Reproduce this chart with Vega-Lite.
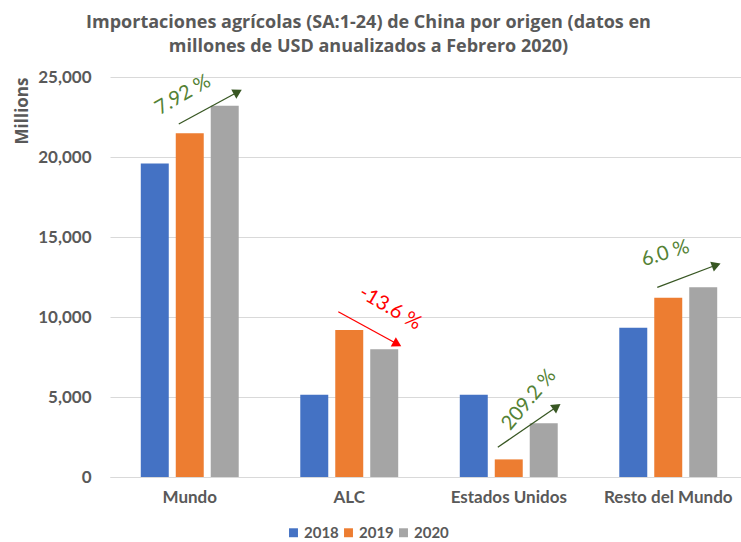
{
  "$schema": "https://vega.github.io/schema/vega-lite/v6.json",
  "width": 631,
  "height": 400,
  "autosize": "none",
  "padding": {"left": 110, "top": 77, "right": 0, "bottom": 65},
  "background": "white",
  "config": {
    "view": {"stroke": null},
    "font": "Lato"
  },
  "title": {
    "text": ["Importaciones agrícolas (SA:1-24) de China por origen (datos en", "millones de USD anualizados a Febrero 2020)"],
    "fontSize": 18,
    "fontWeight": "bold",
    "font": "Open Sans",
    "color": "#595959",
    "lineHeight": 24,
    "anchor": "middle",
    "frame": "group",
    "dx": -57,
    "offset": 12
  },
  "datasets": {
    "bars": [
      {"region": "Mundo", "year": "2018", "value": 19600},
      {"region": "Mundo", "year": "2019", "value": 21480},
      {"region": "Mundo", "year": "2020", "value": 23200},
      {"region": "ALC", "year": "2018", "value": 5140},
      {"region": "ALC", "year": "2019", "value": 9190},
      {"region": "ALC", "year": "2020", "value": 7980},
      {"region": "Estados Unidos", "year": "2018", "value": 5140},
      {"region": "Estados Unidos", "year": "2019", "value": 1100},
      {"region": "Estados Unidos", "year": "2020", "value": 3354},
      {"region": "Resto del Mundo", "year": "2018", "value": 9333},
      {"region": "Resto del Mundo", "year": "2019", "value": 11208},
      {"region": "Resto del Mundo", "year": "2020", "value": 11854}
    ],
    "arrows": [
      {"region": "Mundo", "arrow": "Mundo", "year": "2019", "value": 22062},
      {"region": "Mundo", "arrow": "Mundo", "year": "2020", "value": 24062},
      {"region": "ALC", "arrow": "ALC", "year": "2019", "value": 10331},
      {"region": "ALC", "arrow": "ALC", "year": "2020", "value": 8312},
      {"region": "Estados Unidos", "arrow": "Estados Unidos", "year": "2019", "value": 1856},
      {"region": "Estados Unidos", "arrow": "Estados Unidos", "year": "2020", "value": 4394},
      {"region": "Resto del Mundo", "arrow": "Resto del Mundo", "year": "2019", "value": 11856},
      {"region": "Resto del Mundo", "arrow": "Resto del Mundo", "year": "2020", "value": 13250}
    ],
    "labels": [
      {"region": "Mundo", "value": 23770, "label": "7.92 %"},
      {"region": "ALC", "value": 10375, "label": "-13.6 %"},
      {"region": "Estados Unidos", "value": 4500, "label": "209.2 %"},
      {"region": "Resto del Mundo", "value": 14030, "label": "6.0 %"}
    ]
  },
  "encoding": {
    "x": {
      "field": "region", "type": "nominal",
      "sort": ["Mundo", "ALC", "Estados Unidos", "Resto del Mundo"],
      "scale": {"range": [0, 638], "paddingInner": 0.386, "paddingOuter": 0.193},
      "axis": {
        "title": null, "labelAngle": 0, "labelFontSize": 17, "labelFontWeight": "bold",
        "labelColor": "#595959", "labelFont": "Lato", "labelPadding": 12,
        "ticks": false, "domainColor": "#D9D9D9", "domainWidth": 1, "grid": false
      }
    },
    "y": {
      "field": "value", "type": "quantitative",
      "scale": {"domain": [0, 25000], "nice": false},
      "axis": {
        "title": "Millions", "titleFontSize": 17, "titleFontWeight": "bold", "titleColor": "#595959",
        "titleFont": "Open Sans", "titleAnchor": "end", "titlePadding": 6,
        "values": [0, 5000, 10000, 15000, 20000, 25000], "format": ",d",
        "labelFontSize": 17, "labelFontWeight": "bold", "labelColor": "#595959", "labelFont": "Lato",
        "labelPadding": 19, "ticks": false, "domain": false,
        "gridColor": "#D9D9D9", "gridWidth": 1
      }
    }
  },
  "layer": [
    {
      "data": {"name": "bars"},
      "mark": {"type": "bar"},
      "encoding": {
        "xOffset": {
          "field": "year", "type": "nominal",
          "scale": {"paddingInner": 0.2, "paddingOuter": 0}
        },
        "color": {
          "field": "year", "type": "nominal",
          "scale": {"range": ["#4472C4", "#ED7D31", "#A5A5A5"]},
          "legend": {
            "title": null, "orient": "none", "direction": "horizontal",
            "legendX": 176, "legendY": 448,
            "symbolType": "square", "symbolSize": 80, "symbolStrokeWidth": 0,
            "labelFontSize": 15, "labelFontWeight": "bold", "labelColor": "#595959", "labelFont": "Lato",
            "labelOffset": 3, "columnPadding": 2
          }
        }
      }
    },
    {
      "data": {"name": "arrows"},
      "mark": {"type": "line", "color": "#385723", "strokeWidth": 1.3},
      "transform": [{"filter": "datum.region !== 'ALC'"}],
      "encoding": {
        "xOffset": {"field": "year", "type": "nominal", "scale": {"type": "point", "domain": ["2019", "2020"], "range": [38, 97], "padding": 0}},
        "detail": {"field": "arrow"}
      }
    },
    {
      "data": {"name": "arrows"},
      "mark": {"type": "line", "color": "#FF0000", "strokeWidth": 1.3},
      "transform": [{"filter": "datum.region === 'ALC'"}],
      "encoding": {
        "xOffset": {"field": "year", "type": "nominal", "scale": {"type": "point", "domain": ["2019", "2020"], "range": [38, 97], "padding": 0}},
        "detail": {"field": "arrow"}
      }
    },
    {
      "data": {"name": "arrows"},
      "mark": {"type": "point", "shape": "triangle-up", "filled": true, "color": "#385723", "size": 110, "opacity": 1, "angle": 61},
      "transform": [{"filter": "datum.region === 'Mundo' && datum.year === '2020'"}],
      "encoding": {
        "xOffset": {"field": "year", "type": "nominal", "scale": {"type": "point", "domain": ["2019", "2020"], "range": [38, 97], "padding": 0}}
      }
    },
    {
      "data": {"name": "arrows"},
      "mark": {"type": "point", "shape": "triangle-up", "filled": true, "color": "#FF0000", "size": 110, "opacity": 1, "angle": 119},
      "transform": [{"filter": "datum.region === 'ALC' && datum.year === '2020'"}],
      "encoding": {
        "xOffset": {"field": "year", "type": "nominal", "scale": {"type": "point", "domain": ["2019", "2020"], "range": [38, 97], "padding": 0}}
      }
    },
    {
      "data": {"name": "arrows"},
      "mark": {"type": "point", "shape": "triangle-up", "filled": true, "color": "#385723", "size": 110, "opacity": 1, "angle": 55},
      "transform": [{"filter": "datum.region === 'Estados Unidos' && datum.year === '2020'"}],
      "encoding": {
        "xOffset": {"field": "year", "type": "nominal", "scale": {"type": "point", "domain": ["2019", "2020"], "range": [38, 97], "padding": 0}}
      }
    },
    {
      "data": {"name": "arrows"},
      "mark": {"type": "point", "shape": "triangle-up", "filled": true, "color": "#385723", "size": 110, "opacity": 1, "angle": 70},
      "transform": [{"filter": "datum.region === 'Resto del Mundo' && datum.year === '2020'"}],
      "encoding": {
        "xOffset": {"field": "year", "type": "nominal", "scale": {"type": "point", "domain": ["2019", "2020"], "range": [38, 97], "padding": 0}}
      }
    },
    {
      "data": {"name": "labels"},
      "mark": {"type": "text", "color": "#548235", "fontSize": 20, "font": "Lato", "angle": 330, "dx": -5, "dy": -5},
      "transform": [{"filter": "datum.region === 'Mundo'"}],
      "encoding": {"text": {"field": "label"}}
    },
    {
      "data": {"name": "labels"},
      "mark": {"type": "text", "color": "#FF0000", "fontSize": 20, "font": "Lato", "angle": 30, "dx": 34, "dy": -23},
      "transform": [{"filter": "datum.region === 'ALC'"}],
      "encoding": {"text": {"field": "label"}}
    },
    {
      "data": {"name": "labels"},
      "mark": {"type": "text", "color": "#548235", "fontSize": 20, "font": "Lato", "angle": 310, "dx": 17, "dy": 12},
      "transform": [{"filter": "datum.region === 'Estados Unidos'"}],
      "encoding": {"text": {"field": "label"}}
    },
    {
      "data": {"name": "labels"},
      "mark": {"type": "text", "color": "#548235", "fontSize": 20, "font": "Lato", "angle": 343, "dx": -3},
      "transform": [{"filter": "datum.region === 'Resto del Mundo'"}],
      "encoding": {"text": {"field": "label"}}
    }
  ],
  "resolve": {"scale": {"color": "independent", "xOffset": "independent"}}
}
